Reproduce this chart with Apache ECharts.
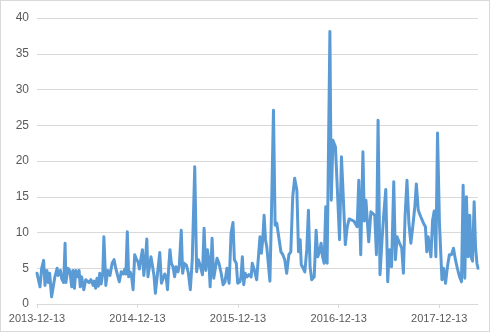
<!DOCTYPE html>
<html>
<head>
<meta charset="utf-8">
<script src="https://cdn.jsdelivr.net/npm/echarts@6/dist/echarts.min.js"></script>
<style>
  html, body { margin: 0; padding: 0; background: #fff; }
  #wrap { position: relative; width: 490px; height: 332px; }
  #chart { position: absolute; left: 0; top: 0; width: 490px; height: 332px; }
  #frame { position: absolute; left: 0; top: 0; width: 490px; height: 332px; box-sizing: border-box; border: 1px solid #d9d9d9; pointer-events: none; }
</style>
</head>
<body>
<div id="wrap"><div id="chart"></div><div id="frame"></div></div>
<script>
// Start date of the series; x values are days elapsed since this date
const startDate = '2013-12-13';

const dayOffsets = [
  0, 7, 11, 17, 24, 29, 36, 41, 46, 53, 59, 65, 73, 77, 85, 90, 97, 102, 105, 112,
  119, 126, 131, 136, 141, 148, 153, 157, 162, 170, 177, 184, 189, 196, 204, 208, 213, 218, 223, 228,
  233, 239, 243, 250, 257, 265, 273, 280, 285, 290, 294, 299, 306, 314, 319, 323, 328, 333, 338, 343,
  349, 355, 362, 367, 372, 377, 383, 388, 394, 399, 403, 410, 414, 420, 425, 430, 437, 446, 452, 459,
  464, 469, 474, 479, 483, 488, 494, 500, 505, 512, 517, 524, 529, 535, 543, 550, 557, 564, 573, 580,
  586, 593, 601, 607, 613, 619, 624, 629, 636, 642, 649, 654, 661, 669, 676, 683, 690, 698, 705, 712,
  717, 724, 729, 737, 741, 746, 751, 756, 763, 770, 778, 782, 790, 798, 803, 810, 815, 820, 825, 830,
  835, 839, 846, 851, 859, 865, 871, 878, 886, 893, 900, 907, 915, 922, 929, 936, 944, 950, 956, 960,
  967, 973, 980, 986, 992, 998, 1007, 1014, 1020, 1026, 1032, 1037, 1043, 1049, 1054, 1064, 1069, 1075, 1079, 1084,
  1088, 1099, 1106, 1112, 1120, 1127, 1134, 1141, 1151, 1158, 1163, 1169, 1176, 1184, 1189, 1195, 1199, 1205, 1213, 1220,
  1227, 1233, 1239, 1246, 1254, 1260, 1267, 1274, 1280, 1288, 1296, 1302, 1308, 1316, 1325, 1331, 1337, 1344, 1351, 1358,
  1365, 1373, 1378, 1385, 1394, 1404, 1411, 1416, 1421, 1426, 1431, 1437, 1443, 1449, 1455, 1462, 1471, 1477, 1484, 1491,
  1498, 1506, 1513, 1520, 1527, 1535, 1542, 1548, 1554, 1560, 1566, 1572, 1577, 1582, 1588, 1593, 1598, 1602
];

// Observed values
const values = [
  4.3, 4.5, 2.4, 5.0, 6.1, 2.6, 4.7, 3.0, 4.3, 1.0, 2.4, 3.8, 5.0, 4.0, 4.7, 3.5, 3.0, 8.5, 3.0, 5.0,
  4.7, 2.4, 4.7, 2.2, 4.7, 3.8, 4.7, 2.4, 3.8, 2.0, 3.4, 3.6, 3.0, 3.4, 2.6, 3.2, 2.2, 3.6, 2.5, 4.3,
  2.8, 4.3, 9.4, 2.6, 4.7, 4.0, 5.7, 6.2, 5.2, 5.4, 3.8, 3.1, 4.5, 4.2, 4.9, 4.2, 10.1, 3.8, 4.5, 4.0,
  2.0, 6.9, 6.2, 5.9, 4.9, 6.2, 7.6, 4.0, 6.2, 9.1, 3.8, 4.0, 6.6, 5.2, 4.0, 1.5, 4.0, 7.2, 2.9, 3.1,
  4.2, 3.8, 2.0, 5.4, 7.6, 5.7, 5.2, 3.8, 5.2, 4.5, 5.4, 10.3, 4.3, 5.7, 5.4, 4.3, 2.0, 6.2, 19.2, 4.5,
  6.2, 5.4, 4.1, 10.6, 4.7, 7.6, 6.2, 2.4, 9.2, 3.6, 3.8, 6.4, 5.7, 4.3, 2.7, 3.1, 5.0, 2.9, 9.9, 11.4,
  6.2, 5.7, 2.9, 3.1, 3.8, 6.6, 2.7, 4.3, 3.8, 4.1, 3.8, 5.7, 4.7, 3.4, 3.2, 9.4, 7.1, 9.0, 12.4, 9.0,
  7.9, 6.2, 3.2, 11.3, 27.1, 11.0, 11.3, 11.5, 7.3, 6.9, 6.2, 4.3, 6.9, 7.3, 15.0, 17.6, 15.9, 7.3, 9.0, 5.5,
  5.0, 4.5, 7.6, 13.1, 5.2, 3.4, 3.8, 10.3, 6.6, 7.3, 8.5, 6.7, 5.7, 13.6, 5.7, 38.1, 14.5, 22.9, 22.7, 22.0,
  18.7, 9.0, 20.6, 15.5, 8.3, 10.8, 11.9, 11.7, 11.6, 11.4, 10.8, 17.3, 6.9, 21.3, 11.6, 14.5, 14.3, 8.7, 12.9, 12.7,
  12.4, 6.9, 25.7, 4.1, 9.4, 12.7, 16.0, 3.1, 7.6, 5.2, 17.1, 6.2, 9.4, 8.6, 7.8, 4.3, 12.2, 17.3, 11.3, 8.5,
  10.8, 13.8, 16.8, 13.1, 12.2, 11.3, 10.8, 7.3, 9.4, 9.3, 6.6, 11.7, 13.0, 6.6, 23.9, 11.3, 3.4, 5.0, 2.9, 5.2,
  6.9, 6.9, 7.8, 6.2, 5.0, 3.8, 3.1, 16.6, 3.6, 15.0, 6.6, 12.4, 6.6, 6.0, 14.3, 8.0, 5.7, 5.0
];

// X-axis tick labels (dates)
const xTickLabels = ['2013-12-13', '2014-12-13', '2015-12-13', '2016-12-13', '2017-12-13'];

// Y-axis range
const yMin = 0, yMax = 40, yStep = 5;

function dayNum(s) {
  const p = s.split('-').map(Number);
  return Date.UTC(p[0], p[1] - 1, p[2]) / 86400000;
}
const base = dayNum(startDate);
const tickOffsets = xTickLabels.map(s => dayNum(s) - base);
const labelByOffset = {};
xTickLabels.forEach((s, i) => { labelByOffset[tickOffsets[i]] = s; });

const seriesData = dayOffsets.map((d, i) => [d, values[i]]);

const chart = echarts.init(document.getElementById('chart'), null, { renderer: 'canvas' });
chart.setOption({
  animation: false,
  backgroundColor: '#ffffff',
  grid: { left: 37, right: 12, top: 18, bottom: 28, containLabel: false },
  xAxis: {
    type: 'value',
    min: 0,
    max: 'dataMax',
    splitLine: { show: false },
    axisLine: { show: true, lineStyle: { color: '#d9d9d9', width: 1 } },
    axisTick: { show: true, customValues: tickOffsets, length: 4, lineStyle: { color: '#d9d9d9' } },
    axisLabel: {
      customValues: tickOffsets,
      color: '#595959',
      fontSize: 11,
      fontFamily: 'Liberation Sans, Arial, sans-serif',
      margin: 9,
      formatter: v => labelByOffset[Math.round(v)] || ''
    }
  },
  yAxis: {
    type: 'value',
    min: yMin,
    max: yMax,
    interval: yStep,
    axisLine: { show: false },
    axisTick: { show: false },
    splitLine: { show: true, lineStyle: { color: '#d9d9d9', width: 1 } },
    axisLabel: {
      color: '#595959',
      fontSize: 12,
      fontFamily: 'Liberation Sans, Arial, sans-serif',
      margin: 8
    }
  },
  series: [{
    type: 'line',
    data: seriesData,
    showSymbol: false,
    symbol: 'none',
    lineStyle: { color: '#5b9bd5', width: 3, join: 'round', cap: 'round' },
    itemStyle: { color: '#5b9bd5' }
  }]
});
</script>
</body>
</html>
